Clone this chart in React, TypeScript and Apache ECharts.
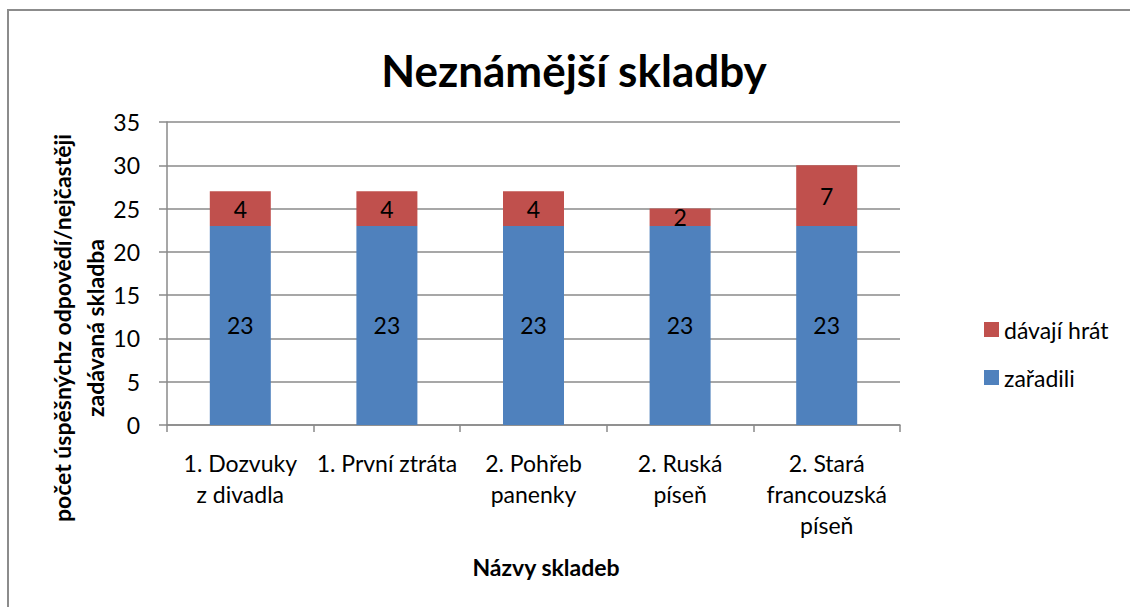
import React, { useEffect, useRef } from "react";
import * as echarts from "echarts";

const categories = [
  "1. Dozvuky\nz divadla",
  "1. První ztráta",
  "2. Pohřeb\npanenky",
  "2. Ruská\npíseň",
  "2. Stará\nfrancouzská\npíseň",
];
const zaradili = [23, 23, 23, 23, 23];
const davajiHrat = [4, 4, 4, 2, 7];
const yTicks = { min: 0, max: 35, interval: 5 };
const titleText = "Neznámější skladby";
const yAxisTitle = "počet úspěšnýchz odpovědí/nejčastěji\nzadávaná skladba";
const xAxisTitle = "Názvy skladeb";

const FONT = "Lato";

export default function App() {
  const ref = useRef<HTMLDivElement>(null);
  useEffect(() => {
    if (!ref.current) return;
    const chart = echarts.init(ref.current, undefined, { renderer: "svg" });
    const axisGray = "#8a8a8a";
    chart.setOption({
      animation: false,
      backgroundColor: "#ffffff",
      textStyle: { fontFamily: FONT },
      grid: { left: 167, right: 230, top: 122, bottom: 182, containLabel: false },
      legend: {
        orient: "vertical",
        left: 979,
        top: 313,
        itemWidth: 15,
        itemHeight: 15,
        itemGap: 25,
        icon: "rect",
        data: ["dávají hrát", "zařadili"],
        textStyle: { fontFamily: FONT, fontSize: 23, color: "#000", lineHeight: 23 },
      },
      xAxis: {
        type: "category",
        data: categories,
        axisLine: { show: true, lineStyle: { color: axisGray, width: 1.5 } },
        axisTick: { show: true, length: 7, lineStyle: { color: axisGray, width: 1.5 } },
        axisLabel: {
          interval: 0,
          color: "#000",
          fontFamily: FONT,
          fontSize: 23,
          lineHeight: 31,
          margin: 22,
        },
      },
      yAxis: {
        type: "value",
        min: yTicks.min,
        max: yTicks.max,
        interval: yTicks.interval,
        axisLine: { show: true, lineStyle: { color: axisGray, width: 1.5 } },
        axisTick: { show: true, length: 8, lineStyle: { color: axisGray, width: 1.5 } },
        splitLine: { show: true, lineStyle: { color: axisGray, width: 1.5 } },
        axisLabel: { color: "#000", fontFamily: FONT, fontSize: 23, margin: 27 },
      },
      series: [
        {
          name: "zařadili",
          type: "bar",
          stack: "s",
          data: zaradili,
          barWidth: 61,
          itemStyle: { color: "#4F81BD" },
          label: { show: true, position: "inside", color: "#000", fontFamily: FONT, fontSize: 23 },
        },
        {
          name: "dávají hrát",
          type: "bar",
          stack: "s",
          data: davajiHrat,
          barWidth: 61,
          itemStyle: { color: "#C0504D" },
          label: { show: true, position: "inside", color: "#000", fontFamily: FONT, fontSize: 23 },
        },
      ],
      graphic: [
        {
          type: "rect",
          shape: { x: 8, y: 10, width: 1200, height: 700 },
          style: { fill: "none", stroke: "#8c8c8c", lineWidth: 2 },
          silent: true,
          z: -1,
        },
        {
          type: "text",
          x: 574,
          y: 70,
          style: {
            text: titleText,
            font: `bold 44px ${FONT}`,
            fill: "#000",
            textAlign: "center",
            textVerticalAlign: "middle",
          },
        },
        {
          type: "text",
          x: 546,
          y: 567,
          style: {
            text: xAxisTitle,
            font: `bold 23px ${FONT}`,
            fill: "#000",
            textAlign: "center",
            textVerticalAlign: "middle",
          },
        },
        {
          type: "text",
          x: 78,
          y: 328,
          rotation: Math.PI / 2,
          style: {
            text: yAxisTitle,
            font: `bold 23px ${FONT}`,
            lineHeight: 33,
            fill: "#000",
            textAlign: "center",
            textVerticalAlign: "middle",
          },
        },
      ],
    });
    return () => chart.dispose();
  }, []);
  return (
    <div
      ref={ref}
      style={{ position: "fixed", left: 0, top: 0, width: 1130, height: 607 }}
    />
  );
}
